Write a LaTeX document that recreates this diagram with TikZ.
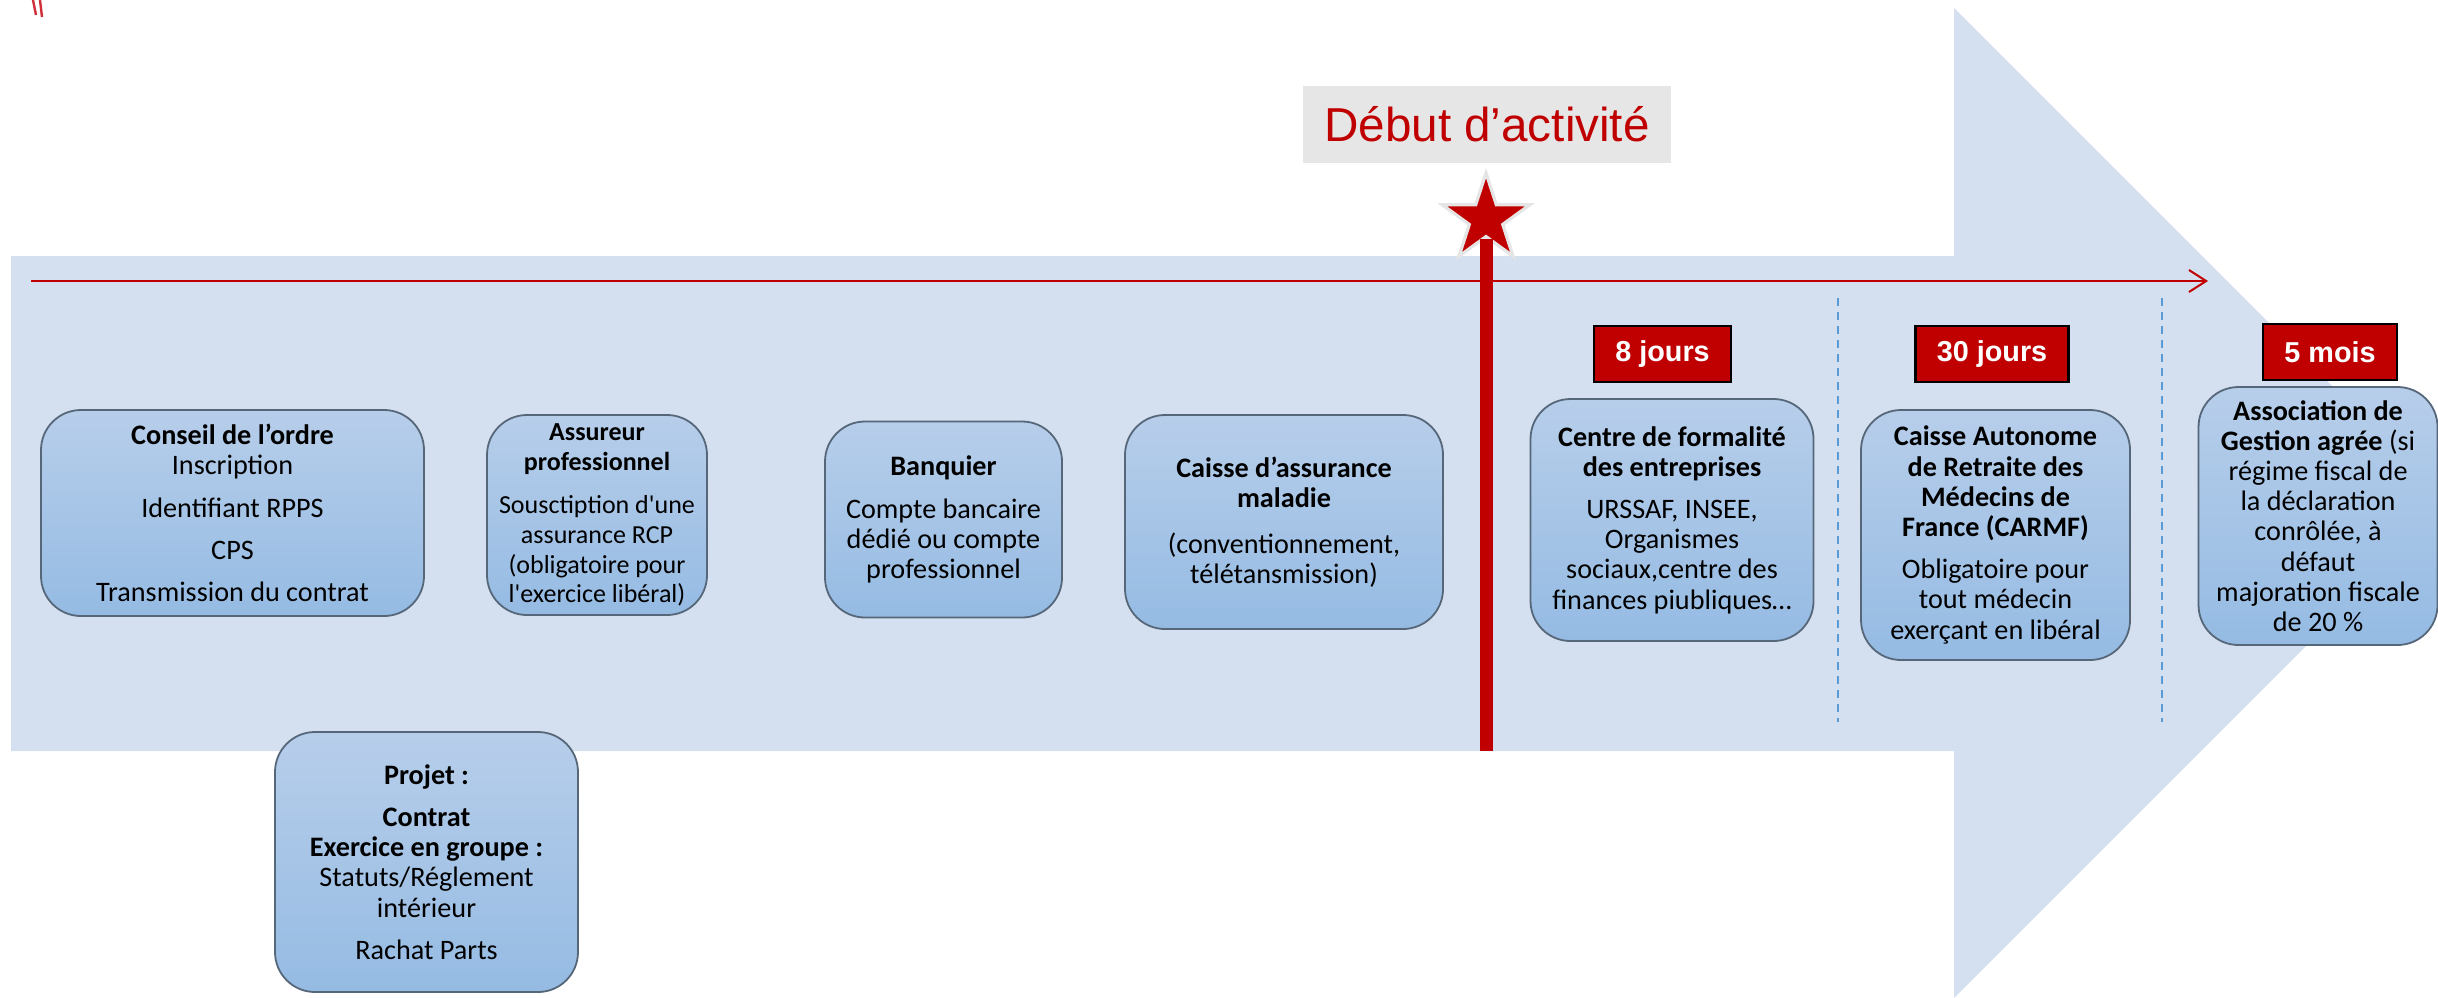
\documentclass[tikz,border=0pt]{standalone}
\usepackage{fontspec}
\setmainfont{Carlito}
\newfontfamily\plainq{Carlito}
\newfontfamily\arialf{Liberation Sans}
\newcommand{\sq}{{\plainq'}}
\usetikzlibrary{shapes.geometric,arrows.meta}
\definecolor{bodyblue}{HTML}{D4DFEF}
\definecolor{darkred}{HTML}{C00000}
\definecolor{boxtop}{HTML}{B7CEEA}
\definecolor{boxbot}{HTML}{95BBE3}
\definecolor{boxline}{HTML}{56677A}
\definecolor{dashblue}{HTML}{5B9BD5}
\definecolor{greybox}{HTML}{E6E6E6}
\definecolor{markred}{HTML}{D0303A}
\begin{document}
\begin{tikzpicture}[x=0.25pt,y=-0.25pt,
  card/.style={draw=boxline, line width=0.45pt, rounded corners=10pt,
    top color=boxtop, bottom color=boxbot, align=center, inner sep=0pt,
    font=\fontsize{7.05}{7.55}\selectfont},
  delay/.style={draw=black, line width=0.6pt, fill=darkred, text=white,
    font=\arialf\bfseries\fontsize{7.2}{8}\selectfont, inner sep=0pt,
    minimum height=14pt},
  dashsep/.style={dashblue, line width=0.45pt, dash pattern=on 2pt off 1.5pt},
]
\useasboundingbox (0,0) rectangle (2438,997);
% big arrow
\fill[bodyblue] (11,256) -- (1954,256) -- (1954,8) -- (2449,503) -- (1954,998)
  -- (1954,751) -- (11,751) -- cycle;
% small marks top left
\draw[markred, line width=0.6pt] (33,0) -- (36,15);
\draw[markred, line width=0.6pt] (40,0) -- (42,17);
% timeline arrow
\coordinate (tls) at (31,281);
\coordinate (tle) at (2208,281);
\draw[darkred, line width=0.5pt, -{Straight Barb[length=4.3pt,width=5.5pt]}] (tls) -- (tle);
% dashed separators
\coordinate (d1t) at (1838,298); \coordinate (d1b) at (1838,722);
\coordinate (d2t) at (2162,298); \coordinate (d2b) at (2162,722);
\draw[dashsep] (d1t) -- (d1b);
\draw[dashsep] (d2t) -- (d2b);
% start of activity
\node[fill=greybox, minimum width=92pt, minimum height=19.25pt, inner sep=0pt,
  text=darkred, font=\arialf\fontsize{11.9}{14}\selectfont] (debut) at (1487,124.5) {Début d’activité};
\node[star, star points=5, star point ratio=2.618, fill=darkred, draw=gray!20,
  line width=0.8pt, minimum size=23pt, inner sep=0pt] (star) at (1486,219) {};
\coordinate (vb) at (1486,751);
\draw[darkred, line width=3.25pt] (star.south) -- (vb);
% delays
\node[delay, minimum width=34.25pt] (d8) at (1662.5,354) {8 jours};
\node[delay, minimum width=38.25pt] (d30) at (1992,354) {30 jours};
\node[delay, minimum width=33.5pt] (d5) at (2330,352) {5 mois};
% cards
\node[card, minimum width=95.75pt, minimum height=51.5pt] (conseil) at (232.5,513)
  {\textbf{Conseil de l’ordre}\\ Inscription\\[3pt] Identifiant RPPS\\[3pt] CPS\\[3pt] Transmission du contrat};
\node[card, minimum width=55pt, minimum height=50pt, font=\fontsize{6.5}{7.4}\selectfont] (assur) at (597,515)
  {\textbf{Assureur}\\ \textbf{professionnel}\\[3.5pt] Sousctiption d\sq une\\ assurance RCP\\ (obligatoire pour\\ l\sq exercice libéral)};
\node[card, minimum width=59.25pt, minimum height=49pt] (banq) at (943.5,519.5)
  {\textbf{Banquier}\\[3pt] Compte bancaire\\ dédié ou compte\\ professionnel};
\node[card, minimum width=79.5pt, minimum height=53.5pt] (cpam) at (1284,522)
  {\textbf{Caisse d’assurance}\\ \textbf{maladie}\\[4pt] (conventionnement,\\ télétansmission)};
\node[card, minimum width=70.75pt, minimum height=60.5pt] (cfe) at (1672,520)
  {\textbf{Centre de formalité}\\ \textbf{des entreprises}\\[3pt] URSSAF, INSEE,\\ Organismes\\ sociaux,centre des\\ finances piubliques…};
\node[card, minimum width=67.25pt, minimum height=62.5pt] (carmf) at (1995.5,535)
  {\textbf{Caisse Autonome}\\ \textbf{de Retraite des}\\ \textbf{Médecins de}\\ \textbf{France (CARMF)}\\[3pt] Obligatoire pour\\ tout médecin\\ exerçant en libéral};
\node[card, minimum width=59.75pt, minimum height=64.5pt] (aga) at (2318,516)
  {\textbf{Association de}\\ \textbf{Gestion agrée} (si\\ régime fiscal de\\ la déclaration\\ conrôlée, à\\ défaut\\ majoration fiscale\\ de 20 \%};
\node[card, minimum width=75.75pt, minimum height=65pt] (projet) at (426.5,862)
  {\textbf{Projet :}\\[3pt] \textbf{Contrat}\\ \textbf{Exercice en groupe :}\\ Statuts/Réglement\\ intérieur\\[3pt] Rachat Parts};
\end{tikzpicture}
\end{document}
